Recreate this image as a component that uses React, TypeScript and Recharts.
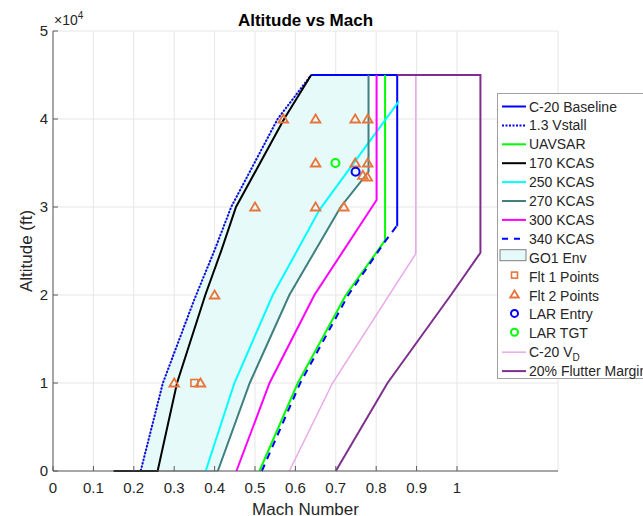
import {
  ComposedChart,
  Line,
  Area,
  Scatter,
  XAxis,
  YAxis,
  CartesianGrid,
} from "recharts";

type Pt = { x: number; y: number };
const pts = (a: number[][]): Pt[] => a.map(([x, y]) => ({ x, y }));

// axis ticks
const machTicks = [0, 0.1, 0.2, 0.3, 0.4, 0.5, 0.6, 0.7, 0.8, 0.9, 1];
const altTicks = [0, 10000, 20000, 30000, 40000, 50000];

// boundary lines (mach, altitude ft)
const c20Baseline = pts([[0.639, 45000], [0.852, 45000], [0.852, 27800]]);
const vstall13 = pts([[0.217, 0], [0.272, 10000], [0.349, 19400], [0.40, 25100], [0.441, 30000], [0.556, 40000], [0.639, 45000]]);
const uavsar = pts([[0.511, 0], [0.606, 10000], [0.725, 20000], [0.822, 26200], [0.822, 45000]]);
const kcas170 = pts([[0.15, 0], [0.259, 0], [0.307, 10000], [0.377, 20000], [0.417, 25100], [0.453, 30000], [0.572, 40000], [0.639, 45000]]);
const kcas250 = pts([[0.378, 0], [0.449, 10000], [0.544, 20000], [0.66, 29700], [0.856, 42000]]);
const kcas270 = pts([[0.408, 0], [0.487, 10000], [0.585, 20000], [0.712, 30000], [0.781, 34000], [0.781, 45000]]);
const kcas300 = pts([[0.454, 0], [0.536, 10000], [0.647, 20000], [0.801, 30800], [0.801, 45000]]);
const kcas340 = pts([[0.517, 0], [0.612, 10000], [0.731, 20000], [0.822, 26100], [0.85, 27800]]);
const c20Vd = pts([[0.585, 0], [0.692, 10000], [0.898, 24700], [0.898, 45000]]);
const flutter20 = pts([[0.7, 0], [0.828, 10000], [0.985, 20000], [1.058, 24800], [1.058, 45000], [0.852, 45000]]);

// GO1 envelope: up the 1.3 Vstall line, across the top, down 270 KCAS
const go1Env = [...vstall13, ...[...kcas270].reverse(), vstall13[0]];

// flight test points
const flt1Points = pts([[0.35, 10000]]);
const flt2Points = pts([
  [0.3, 10000], [0.365, 10000], [0.4, 20000], [0.5, 30000], [0.57, 40000],
  [0.65, 40000], [0.748, 40000], [0.779, 40000], [0.65, 35000], [0.748, 35000],
  [0.779, 35000], [0.65, 30000], [0.72, 30000], [0.767, 33600], [0.778, 33400],
]);
const larEntry = pts([[0.749, 34000]]);
const larTgt = pts([[0.699, 35000]]);

const ORANGE = "#e8743b";
const FONT = "'Liberation Sans', Arial, Helvetica, sans-serif";
const TXT = "#262626";

const Tri = (p: any) => {
  const { cx, cy } = p;
  if (cx == null || cy == null) return <g />;
  return (
    <polygon
      points={`${cx},${cy - 4.5} ${cx + 4.8},${cy + 3.5} ${cx - 4.8},${cy + 3.5}`}
      fill="none"
      stroke={ORANGE}
      strokeWidth={1.8}
    />
  );
};
const Sq = (p: any) => {
  const { cx, cy } = p;
  if (cx == null || cy == null) return <g />;
  return <rect x={cx - 3.5} y={cy - 3.5} width={7} height={7} fill="none" stroke={ORANGE} strokeWidth={1.6} />;
};
const circ = (color: string) => (p: any) => {
  const { cx, cy } = p;
  if (cx == null || cy == null) return <g />;
  return <circle cx={cx} cy={cy} r={4} fill="none" stroke={color} strokeWidth={2} />;
};

const legendRows: { label: any; kind: string; color: string; dash?: string; w?: number }[] = [
  { label: "C-20 Baseline", kind: "line", color: "#0000ff" },
  { label: "1.3 Vstall", kind: "line", color: "#0000ff", dash: "2 1.5" },
  { label: "UAVSAR", kind: "line", color: "#00ff00" },
  { label: "170 KCAS", kind: "line", color: "#000000" },
  { label: "250 KCAS", kind: "line", color: "#00ffff" },
  { label: "270 KCAS", kind: "line", color: "#408080" },
  { label: "300 KCAS", kind: "line", color: "#ff00ff" },
  { label: "340 KCAS", kind: "line", color: "#0000ff", dash: "6 6" },
  { label: "GO1 Env", kind: "patch", color: "#e6fafa" },
  { label: "Flt 1 Points", kind: "sq", color: ORANGE },
  { label: "Flt 2 Points", kind: "tri", color: ORANGE },
  { label: "LAR Entry", kind: "circ", color: "#0000ff" },
  { label: "LAR TGT", kind: "circ", color: "#00ff00" },
  { label: "C-20 VD", kind: "line", color: "#eaa8ea", w: 1.5 },
  { label: "20% Flutter Margin", kind: "line", color: "#7e2f8e" },
];

function LegendBox() {
  return (
    <div
      style={{
        position: "absolute",
        left: 497,
        top: 93,
        width: 170,
        height: 286,
        background: "#fff",
        border: "1px solid #a0a0a0",
        boxSizing: "border-box",
      }}
    >
      <svg width={170} height={286} style={{ display: "block" }}>
        {legendRows.map((r, i) => {
          const cy = 12.5 + i * 18.9;
          let sw: any = null;
          if (r.kind === "line")
            sw = <line x1={4} x2={28} y1={cy} y2={cy} stroke={r.color} strokeWidth={r.w ?? 2} strokeDasharray={r.dash} />;
          else if (r.kind === "patch")
            sw = <rect x={2} y={cy - 8} width={26} height={11} fill={r.color} stroke="#7f7f7f" strokeWidth={1} />;
          else if (r.kind === "sq")
            sw = <rect x={13.5} y={cy - 4.5} width={6} height={6} fill="none" stroke={r.color} strokeWidth={1.6} />;
          else if (r.kind === "tri")
            sw = <polygon points={`16.5,${cy - 5} 20.8,${cy + 2} 12.2,${cy + 2}`} fill="none" stroke={r.color} strokeWidth={1.8} />;
          else sw = <circle cx={16.5} cy={cy - 1} r={3.5} fill="none" stroke={r.color} strokeWidth={2} />;
          return (
            <g key={i}>
              {sw}
              <text x={31} y={cy + 5} fontSize={14} fontFamily={FONT} fill={TXT}>
                {r.label === "C-20 VD" ? (
                  <>
                    <tspan>C-20 V</tspan>
                    <tspan dy={4} fontSize={10}>D</tspan>
                  </>
                ) : (
                  r.label
                )}
              </text>
            </g>
          );
        })}
      </svg>
    </div>
  );
}

export default function App() {
  const lineProps = { type: "linear" as const, dot: false, isAnimationActive: false, strokeWidth: 2 };
  return (
    <div
      style={{
        position: "absolute",
        left: 0,
        top: 0,
        width: 643,
        height: 516,
        overflow: "hidden",
        background: "#fff",
        fontFamily: FONT,
      }}
    >
      <ComposedChart width={643} height={516} margin={{ top: 31, right: 85, bottom: 0, left: 0 }}>
        <CartesianGrid stroke="#e6e6e6" />
        <XAxis
          dataKey="x"
          type="number"
          domain={[0, 1.25]}
          ticks={machTicks}
          height={45}
          stroke="#5a5a5a"
          tickSize={-5}
          tickMargin={16}
          tick={{ fontSize: 15, fill: TXT, fontFamily: FONT }}
        />
        <XAxis
          xAxisId="top"
          orientation="top"
          type="number"
          domain={[0, 1.25]}
          ticks={machTicks}
          height={0}
          stroke="#5a5a5a"
          tickSize={-5}
          tick={false}
        />
        <YAxis
          dataKey="y"
          type="number"
          domain={[0, 50000]}
          ticks={altTicks}
          width={53}
          stroke="#5a5a5a"
          tickSize={-5}
          tickMargin={10}
          tickFormatter={(v: number) => String(v / 10000)}
          tick={{ fontSize: 15, fill: TXT, fontFamily: FONT }}
        />
        <YAxis
          yAxisId="right"
          orientation="right"
          type="number"
          domain={[0, 50000]}
          ticks={altTicks}
          width={0}
          stroke="#5a5a5a"
          tickSize={-5}
          tick={false}
        />

        <Area
          data={go1Env}
          dataKey="y"
          type="linear"
          baseValue={0}
          fill="#e6fafa"
          fillOpacity={1}
          stroke="#8a8a8a"
          strokeWidth={1}
          isAnimationActive={false}
        />

        <Line data={c20Baseline} dataKey="y" stroke="#0000ff" {...lineProps} />
        <Line data={vstall13} dataKey="y" stroke="#0000ff" strokeDasharray="2 1.5" {...lineProps} />
        <Line data={uavsar} dataKey="y" stroke="#00ff00" {...lineProps} />
        <Line data={kcas170} dataKey="y" stroke="#000000" {...lineProps} />
        <Line data={kcas250} dataKey="y" stroke="#00ffff" {...lineProps} />
        <Line data={kcas270} dataKey="y" stroke="#408080" {...lineProps} />
        <Line data={kcas300} dataKey="y" stroke="#ff00ff" {...lineProps} />
        <Line data={kcas340} dataKey="y" stroke="#0000ff" strokeDasharray="7 6" {...lineProps} />

        <Scatter data={flt1Points} dataKey="y" shape={Sq} isAnimationActive={false} />
        <Scatter data={flt2Points} dataKey="y" shape={Tri} isAnimationActive={false} />
        <Scatter data={larEntry} dataKey="y" shape={circ("#0000ff")} isAnimationActive={false} />
        <Scatter data={larTgt} dataKey="y" shape={circ("#00ff00")} isAnimationActive={false} />

        <Line data={c20Vd} dataKey="y" stroke="#eaa8ea" {...lineProps} strokeWidth={1.5} />
        <Line data={flutter20} dataKey="y" stroke="#7e2f8e" {...lineProps} />
      </ComposedChart>

      <svg
        width={643}
        height={516}
        style={{ position: "absolute", left: 0, top: 0, pointerEvents: "none" }}
      >
        <text x={305.5} y={25.5} textAnchor="middle" fontSize={17} fontWeight="bold" fontFamily={FONT} fill="#000">
          Altitude vs Mach
        </text>
        <text x={305.5} y={515} textAnchor="middle" fontSize={17} fontFamily={FONT} fill={TXT}>
          Mach Number
        </text>
        <text
          x={0}
          y={0}
          transform="translate(32,251) rotate(-90)"
          textAnchor="middle"
          fontSize={17}
          fontFamily={FONT}
          fill={TXT}
        >
          Altitude (ft)
        </text>
        <text x={54} y={25} fontSize={14} fontFamily={FONT} fill={TXT}>
          ×10
          <tspan dy={-6} fontSize={10}>4</tspan>
        </text>
      </svg>

      <LegendBox />
    </div>
  );
}
